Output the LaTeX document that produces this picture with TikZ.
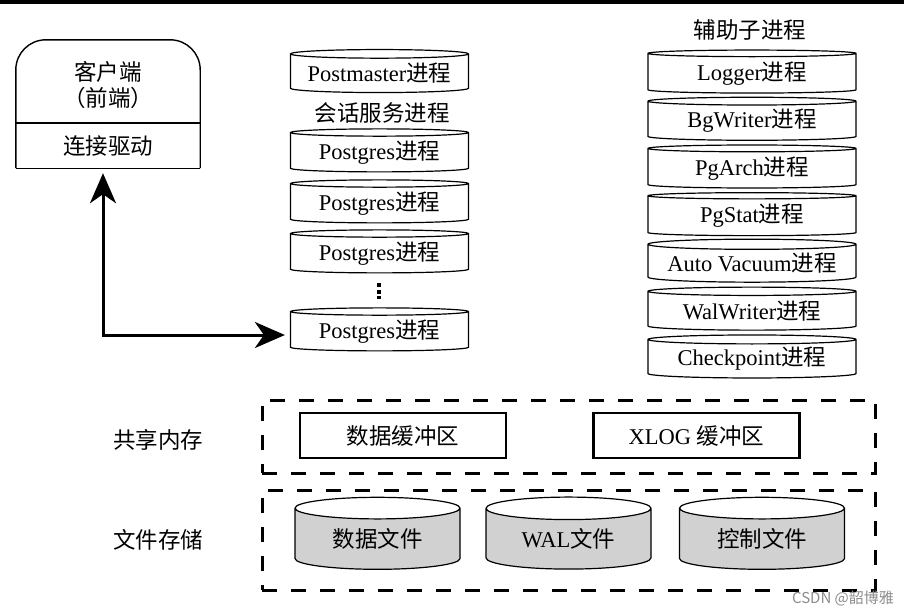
\documentclass[tikz,border=0pt]{standalone}
\usepackage{fontspec}
\setmainfont{Liberation Serif}
\newfontfamily\cjk{Noto Sans CJK SC}
\newcommand{\zh}[1]{{\cjk #1}}
\usetikzlibrary{shapes.geometric,arrows.meta}

\begin{document}
\begin{tikzpicture}[x=1pt, y=-1pt,
  every node/.style={font=\fontsize{22.5}{26}\selectfont, inner sep=0pt},
  disc/.style={draw, line width=1.2pt, cylinder, shape border rotate=90, aspect=0.06, minimum height=43pt, fill=white},
  midproc/.style={disc, minimum width=178pt},
  auxproc/.style={disc, minimum width=208pt},
  buffer/.style={draw, line width=2.4pt, minimum width=206pt, minimum height=45pt},
  area/.style={draw, line width=3pt, dash pattern=on 15pt off 14pt, minimum width=613pt},
  drum/.style={draw, line width=1.2pt, cylinder, shape border rotate=90, aspect=0.24, minimum width=165pt, minimum height=72pt,
    cylinder uses custom fill, cylinder body fill=black!18, cylinder end fill=white},
  link/.style={line width=3pt, {Stealth[length=30pt,width=26pt,inset=9pt]}-{Stealth[length=30pt,width=26pt,inset=9pt]}}
]
\useasboundingbox (0,0) rectangle (904,611);
\fill (0,0) rectangle (904,3.5);

\node[minimum width=184pt, minimum height=128pt] (client) at (108,104) {};
\node[minimum width=184pt, minimum height=45pt] (driver) at (108,145.5) {\zh{连接驱动}};
\node (clientname) at (108,72) {\zh{客户端}};
\node (frontend) at (108,98) {\zh{（前端）}};
\draw[line width=1.4pt, rounded corners=30pt] (client.south west) |- (client.north) -| (client.south east);
\draw[line width=1.4pt] (client.south west) -- (client.south east);
\draw[line width=1.4pt] (driver.north west) -- (driver.north east);

\node[midproc] (postmaster) at (379.5,73.5) {Postmaster\zh{进程}};
\node (session) at (382,113) {\zh{会话服务进程}};
\node[midproc] (pg1) at (379.5,152.5) {Postgres\zh{进程}};
\node[midproc] (pg2) at (379.5,203.5) {Postgres\zh{进程}};
\node[midproc] (pg3) at (379.5,253.5) {Postgres\zh{进程}};
\node[minimum height=15pt] (dots) at (379,291) {};
\draw[line width=4pt, dash pattern=on 4pt off 2.5pt] (dots.north) -- (dots.south);
\node[midproc] (pg4) at (379.5,331.5) {Postgres\zh{进程}};

\node (aux) at (750,30) {\zh{辅助子进程}};
\node[auxproc] (logger) at (752,73.5) {Logger\zh{进程}};
\node[auxproc] (bgwriter) at (752,121) {BgWriter\zh{进程}};
\node[auxproc] (pgarch) at (752,168.5) {PgArch\zh{进程}};
\node[auxproc] (pgstat) at (752,216) {PgStat\zh{进程}};
\node[auxproc] (autovac) at (752,263.5) {Auto Vacuum\zh{进程}};
\node[auxproc] (walwriter) at (752,311) {WalWriter\zh{进程}};
\node[auxproc] (ckpt) at (752,359) {Checkpoint\zh{进程}};

\coordinate (turn) at (103,335);
\draw[link, shorten <=5pt, shorten >=5pt] (client.south -| turn) -- (turn) -- (pg4.west |- turn);

\node[area, minimum height=73pt] (shm) at (568.5,436.5) {};
\node (shmlabel) at (158,440) {\zh{共享内存}};
\node[buffer] (databuf) at (403,435.5) {\zh{数据缓冲区}};
\node[buffer] (xlogbuf) at (696.5,435.5) {XLOG \zh{缓冲区}};

\node[area, minimum height=100pt] (files) at (568.5,540) {};
\node (fileslabel) at (158,540) {\zh{文件存储}};
\node[drum] (datafile) at (377.5,539) {\zh{数据文件}};
\node[drum] (walfile) at (568.5,539) {WAL\zh{文件}};
\node[drum] (ctlfile) at (762,539) {\zh{控制文件}};

\node[font=\cjk\fontsize{15}{17}\selectfont, text=black!45] (mark) at (843,598) {CSDN @韶博雅};
\end{tikzpicture}
\end{document}
